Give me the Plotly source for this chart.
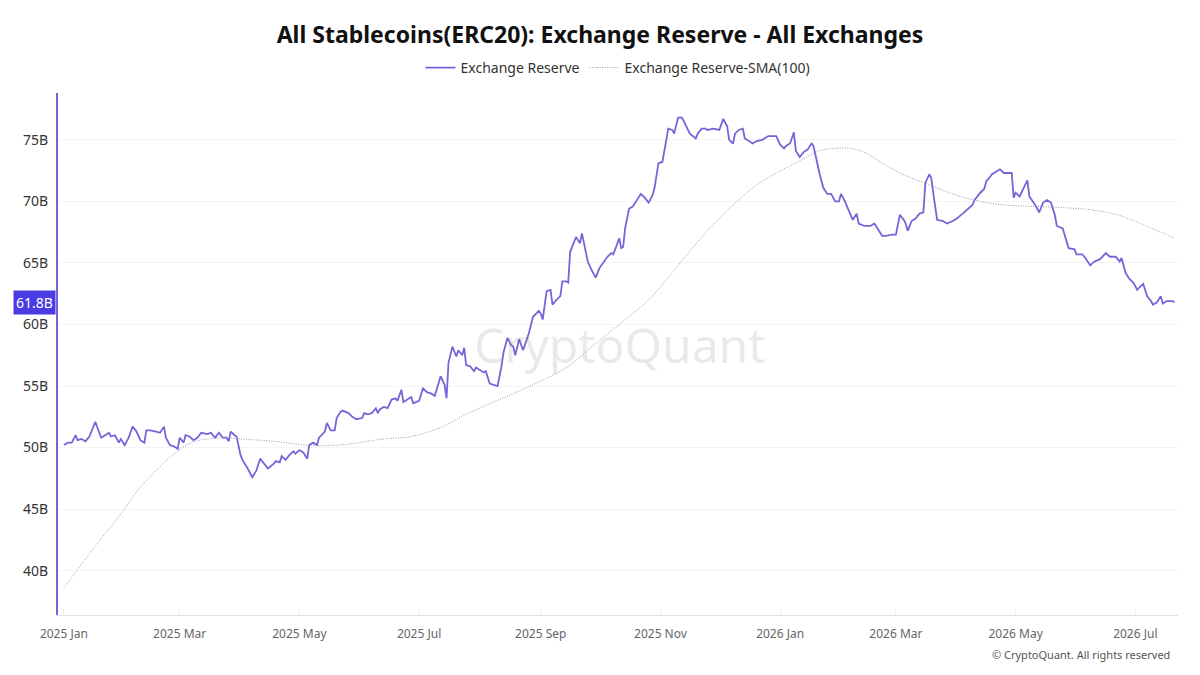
import datetime as dt
import plotly.graph_objects as go

START = dt.date(2025, 1, 1)

# Exchange Reserve (billions USD): day offset from 2025-01-01 and value
reserve_day = [0, 2, 4, 6, 7, 9, 11, 13, 16, 18, 19, 21, 23, 24, 26, 28, 29, 31, 33, 35,
               37, 39, 41, 42, 44, 47, 49, 51, 52, 54, 56, 58, 59, 61, 62, 64, 66, 68, 70, 73,
               75, 77, 79, 81, 83, 84, 85, 87, 88, 90, 91, 94, 96, 98, 100, 101, 104, 107, 108, 110,
               111, 113, 115, 117, 118, 120, 122, 124, 125, 127, 129, 130, 133, 134, 136, 138, 139, 141, 142, 145,
               147, 149, 152, 153, 155, 157, 159, 160, 161, 163, 165, 167, 169, 170, 172, 173, 175, 177, 178, 181,
               183, 185, 187, 189, 192, 194, 195, 196, 198, 200, 201, 203, 204, 205, 207, 209, 210, 212, 214, 215,
               217, 219, 221, 223, 224, 226, 228, 229, 230, 232, 234, 237, 239, 242, 243, 244, 246, 248, 249, 251,
               253, 254, 256, 257, 258, 261, 263, 264, 265, 267, 269, 271, 273, 276, 277, 279, 280, 283, 284, 285,
               286, 288, 290, 292, 294, 296, 298, 300, 301, 303, 305, 308, 310, 311, 313, 315, 317, 319, 322, 323,
               325, 327, 328, 331, 334, 336, 338, 339, 341, 342, 344, 346, 347, 349, 351, 353, 356, 357, 359, 362,
               363, 365, 367, 368, 370, 372, 373, 375, 377, 379, 381, 382, 384, 385, 387, 389, 391, 393, 395, 396,
               398, 400, 402, 404, 405, 408, 411, 413, 415, 417, 419, 422, 424, 425, 426, 428, 429, 430, 432, 434,
               436, 438, 439, 441, 442, 443, 445, 448, 450, 453, 455, 458, 460, 463, 464, 467, 469, 470, 473, 475,
               477, 479, 481, 483, 484, 485, 487, 489, 491, 492, 495, 497, 499, 501, 503, 505, 506, 509, 510, 512,
               515, 516, 519, 521, 523, 525, 528, 531, 533, 536, 538, 539, 541, 543, 545, 547, 548, 550, 552, 554,
               555, 557, 559, 560, 562, 565, 566]
reserve_val = [50.2, 50.4, 50.4, 51.0, 50.6, 50.7, 50.5, 50.9, 52.1, 51.3, 50.8, 51.0, 51.2, 50.9, 51.0, 50.4, 50.7, 50.2, 50.8, 51.7,
               51.3, 50.6, 50.4, 51.4, 51.4, 51.3, 51.2, 51.7, 50.8, 50.2, 50.1, 49.9, 50.8, 50.4, 51.0, 50.9, 50.6, 50.8, 51.2, 51.1,
               51.2, 50.8, 51.2, 50.8, 50.8, 50.5, 51.3, 51.0, 50.9, 49.4, 49.0, 48.2, 47.6, 48.1, 49.1, 48.9, 48.3, 48.7, 48.9, 48.8,
               49.3, 49.0, 49.4, 49.7, 49.5, 49.8, 49.6, 49.1, 50.2, 50.4, 50.2, 50.8, 51.3, 52.0, 51.4, 51.4, 52.4, 52.9, 53.0, 52.8,
               52.5, 52.3, 52.4, 52.8, 52.7, 52.8, 53.2, 52.8, 53.1, 53.3, 53.2, 53.9, 54.0, 53.8, 54.7, 53.7, 53.9, 54.1, 53.6, 53.8,
               54.8, 54.5, 54.4, 54.2, 55.8, 55.1, 54.0, 56.9, 58.2, 57.4, 57.9, 57.5, 58.1, 56.7, 56.6, 56.2, 56.5, 56.3, 56.1, 56.2,
               55.2, 55.1, 55.0, 56.6, 57.7, 58.9, 58.3, 58.2, 57.5, 58.8, 57.9, 59.3, 60.6, 61.1, 60.9, 60.4, 62.7, 62.8, 61.6, 62.0,
               62.3, 63.5, 63.5, 63.4, 65.9, 67.1, 66.6, 67.4, 66.7, 65.1, 64.4, 63.8, 64.6, 65.3, 65.5, 65.8, 65.7, 67.0, 66.2, 66.3,
               67.8, 69.4, 69.6, 70.1, 70.6, 70.3, 69.9, 70.5, 71.1, 73.1, 73.2, 75.9, 75.8, 75.5, 76.8, 76.8, 76.2, 75.5, 75.1, 75.5,
               75.9, 75.9, 75.8, 75.9, 75.8, 76.7, 76.1, 75.0, 74.7, 75.5, 75.8, 75.9, 75.1, 74.9, 74.7, 74.9, 75.0, 75.1, 75.3, 75.3,
               75.3, 74.6, 74.3, 74.5, 74.7, 75.6, 74.1, 73.6, 74.0, 74.2, 74.7, 74.5, 73.0, 72.3, 71.1, 70.6, 70.6, 70.0, 70.0, 70.6,
               70.0, 69.2, 68.5, 69.0, 68.2, 68.0, 68.0, 68.2, 67.7, 67.2, 67.2, 67.3, 67.3, 68.1, 68.9, 68.5, 68.2, 67.6, 68.4, 68.6,
               69.0, 69.1, 71.5, 72.2, 71.9, 70.7, 68.5, 68.4, 68.2, 68.4, 68.6, 69.0, 69.3, 69.7, 70.1, 70.7, 71.0, 71.6, 72.2, 72.4,
               72.6, 72.3, 72.3, 72.3, 70.3, 70.7, 70.4, 71.0, 71.7, 70.4, 69.7, 69.1, 69.9, 70.1, 69.9, 68.9, 68.0, 67.8, 67.2, 66.2,
               66.1, 65.7, 65.7, 65.3, 64.8, 65.1, 65.3, 65.8, 65.5, 65.5, 65.1, 65.4, 64.2, 63.7, 63.4, 62.8, 63.0, 63.3, 62.3, 61.9,
               61.6, 61.8, 62.3, 61.7, 61.9, 61.9, 61.8]

# Exchange Reserve SMA(100)
sma_day = [0, 18, 29, 38, 48, 57, 65, 73, 82, 90, 108, 124, 140, 163, 177, 193, 205, 222, 239, 256,
           272, 283, 298, 311, 324, 337, 352, 362, 375, 385, 393, 401, 409, 416, 426, 440, 457, 474, 491, 508,
           524, 537, 550, 566]
sma_val = [38.6, 42.4, 44.6, 46.6, 48.3, 49.6, 50.4, 50.7, 50.8, 50.7, 50.5, 50.2, 50.2, 50.7, 50.9, 51.7, 52.7, 53.9, 55.1, 56.5,
           58.6, 60.0, 62.0, 64.4, 66.9, 69.1, 71.2, 72.2, 73.3, 74.1, 74.3, 74.3, 73.9, 73.2, 72.3, 71.4, 70.4, 69.8, 69.6, 69.5,
           69.3, 68.9, 68.1, 67.0]

last_value_label = "61.8B"
last_value = 61.8

reserve_dates = [START + dt.timedelta(days=d) for d in reserve_day]
sma_dates = [START + dt.timedelta(days=d) for d in sma_day]

LINE = "#7466d8"
FONT = "Noto Sans"

fig = go.Figure()
fig.add_trace(go.Scatter(x=reserve_dates, y=reserve_val, mode="lines", name="Exchange Reserve",
                         line=dict(color=LINE, width=1.8)))
fig.add_trace(go.Scatter(x=sma_dates, y=sma_val, mode="lines", name="Exchange Reserve-SMA(100)",
                         line=dict(color="#9a94bf", width=1, dash="1px,1.5px", shape="spline")))

fig.update_layout(
    width=1200, height=675,
    paper_bgcolor="white", plot_bgcolor="white",
    margin=dict(l=58, r=22, t=93, b=60),
    font=dict(family=FONT, color="#333"),
    title=dict(text="<b>All Stablecoins(ERC20): Exchange Reserve - All Exchanges</b>",
               x=0.5, xanchor="center", y=1 - 35 / 675, yanchor="middle",
               font=dict(size=23, color="#111", family=FONT)),
    legend=dict(orientation="h", x=0.5, xanchor="center", y=1.048, yanchor="middle",
                font=dict(size=14, color="#333"), bgcolor="rgba(0,0,0,0)"),
    showlegend=True,
    xaxis=dict(type="date", range=["2024-12-29", "2026-07-22 18:00"],
               tick0="2025-01-01", dtick="M2", tickformat="%Y %b",
               showgrid=False, showline=True, linecolor="#e3e3e3", linewidth=1,
               ticks="inside", ticklen=6, tickcolor="#eeeeee", ticklabelstandoff=8,
               tickfont=dict(size=12, color="#666"), zeroline=False),
    yaxis=dict(range=[36.4, 78.8], dtick=5, tick0=0, ticksuffix="B",
               showgrid=True, gridcolor="#f4f4f4", gridwidth=1,
               showline=True, linecolor=LINE, linewidth=2, ticklabelstandoff=5,
               ticks="", tickfont=dict(size=14, color="#333"), zeroline=False),
)

fig.add_annotation(x=0, xref="paper", y=last_value, yref="y", text=last_value_label,
                   showarrow=False, xanchor="right", yanchor="middle", xshift=-2,
                   bgcolor="#4b3be3", font=dict(color="white", size=14, family=FONT),
                   borderpad=2)
fig.add_annotation(x=0.5, xref="paper", y=0.5, yref="paper", text="CryptoQuant",
                   showarrow=False, font=dict(size=48, color="rgba(120,120,120,0.16)", family=FONT),
                   xshift=2, yshift=10)
fig.add_annotation(x=1, xref="paper", y=-0.075, yref="paper", text="© CryptoQuant. All rights reserved",
                   showarrow=False, xanchor="right", yanchor="middle", xshift=-6,
                   font=dict(size=11, color="#555", family=FONT))

fig.write_html("out.html")
